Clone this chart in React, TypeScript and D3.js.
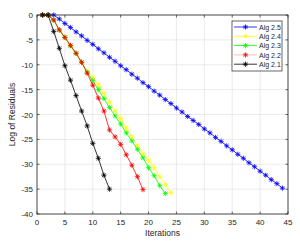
import React from "react";
import * as d3 from "d3";

const xTicks = [0, 5, 10, 15, 20, 25, 30, 35, 40, 45];
const yTicks = [0, -5, -10, -15, -20, -25, -30, -35, -40];

const alg25X = d3.range(1, 45);
const alg25Y = [0, 0, 0, -0.8, -1.7, -2.5, -3.4, -4.2, -5.1, -5.9, -6.8, -7.6, -8.5, -9.3, -10.2, -11.0, -11.9, -12.7, -13.6, -14.4, -15.3, -16.1, -17.0, -17.8, -18.7, -19.5, -20.4, -21.2, -22.0, -22.9, -23.7, -24.6, -25.4, -26.3, -27.1, -28.0, -28.8, -29.7, -30.5, -31.4, -32.2, -33.1, -33.9, -34.8];

const alg24X = d3.range(1, 25);
const alg24Y = [0, 0, -1.0, -3.0, -4.5, -6.2, -7.7, -9.5, -11.3, -12.6, -14.0, -15.8, -17.5, -19.3, -20.8, -22.7, -24.5, -26.3, -27.9, -29.2, -30.7, -32.5, -34.1, -35.7];

const alg23X = d3.range(1, 24);
const alg23Y = [0, 0, -1.0, -3.0, -4.5, -6.2, -7.7, -9.5, -11.5, -13.2, -15.0, -16.8, -18.6, -20.3, -21.9, -23.7, -25.3, -27.0, -28.7, -30.7, -32.3, -34.3, -35.9];

const alg22X = d3.range(1, 20);
const alg22Y = [0, 0, -1.0, -3.0, -4.5, -6.1, -7.7, -9.5, -11.7, -14.1, -16.7, -19.3, -23.1, -24.5, -26.0, -28.1, -30.2, -32.5, -35.1];

const alg21X = d3.range(1, 14);
const alg21Y = [0, 0, -3.3, -6.7, -10.2, -13.1, -16.2, -19.3, -22.3, -25.8, -28.8, -32.2, -35.0];

const seriesNames = ["Alg 2.5", "Alg 2.4", "Alg 2.3", "Alg 2.2", "Alg 2.1"];
const seriesColors = ["#0000ff", "#ffff00", "#00ff00", "#ff0000", "#000000"];
const legendLineColors = ["#0000ff", "#ffff00", "#00ff00", "#ffaaaa", "#000000"];
const seriesXs = [alg25X, alg24X, alg23X, alg22X, alg21X];
const seriesYs = [alg25Y, alg24Y, alg23Y, alg22Y, alg21Y];

const W = 300, H = 243;
const L = 37, R = 288, T = 15, B = 214;
const axisColor = "#262626";
const gridColor = "#e3e3e3";
const font = "'Liberation Sans', Arial, sans-serif";

function Star({ x, y, color, s = 2.6 }: { x: number; y: number; color: string; s?: number }) {
  const d = s * 0.72;
  return (
    <g stroke={color} strokeWidth={0.8}>
      <line x1={x - s} y1={y} x2={x + s} y2={y} />
      <line x1={x} y1={y - s} x2={x} y2={y + s} />
      <line x1={x - d} y1={y - d} x2={x + d} y2={y + d} />
      <line x1={x - d} y1={y + d} x2={x + d} y2={y - d} />
    </g>
  );
}

export default function App() {
  const x = d3.scaleLinear().domain([0, 45]).range([L, R]);
  const y = d3.scaleLinear().domain([-40, 0]).range([B, T]);
  const line = d3.line<[number, number]>().x((d) => x(d[0])).y((d) => y(d[1]));

  const legX = 232, legY = 21, legW = 50, legH = 50;
  const rowY = [27, 36.3, 45.6, 54.9, 64.2];

  return (
    <svg width={W} height={H} style={{ position: "absolute", left: 0, top: 0, background: "#fff" }}>
      <rect x={0} y={0} width={W} height={H} fill="#fff" />
      {/* grid */}
      {xTicks.map((t) => (
        <line key={"gx" + t} x1={x(t)} x2={x(t)} y1={T} y2={B} stroke={gridColor} strokeWidth={0.7} />
      ))}
      {yTicks.map((t) => (
        <line key={"gy" + t} x1={L} x2={R} y1={y(t)} y2={y(t)} stroke={gridColor} strokeWidth={0.7} />
      ))}
      {/* series */}
      {seriesXs.map((xs, i) => {
        const pts: [number, number][] = xs.map((v, j) => [v, seriesYs[i][j]]);
        return (
          <g key={"s" + i}>
            <path d={line(pts) || ""} fill="none" stroke={seriesColors[i]} strokeWidth={0.8} />
            {pts.map((p, j) => (
              <Star key={j} x={x(p[0])} y={y(p[1])} color={seriesColors[i]} />
            ))}
          </g>
        );
      })}
      {/* box */}
      <rect x={L} y={T} width={R - L} height={B - T} fill="none" stroke={axisColor} strokeWidth={0.8} />
      {/* ticks */}
      {xTicks.map((t) => (
        <g key={"tx" + t}>
          <line x1={x(t)} x2={x(t)} y1={B} y2={B - 2.5} stroke={axisColor} strokeWidth={0.7} />
          <line x1={x(t)} x2={x(t)} y1={T} y2={T + 2.5} stroke={axisColor} strokeWidth={0.7} />
          <text x={x(t)} y={B + 11} fontSize={8} fontFamily={font} fill={axisColor} textAnchor="middle">
            {t}
          </text>
        </g>
      ))}
      {yTicks.map((t) => (
        <g key={"ty" + t}>
          <line x1={L} x2={L + 2.5} y1={y(t)} y2={y(t)} stroke={axisColor} strokeWidth={0.7} />
          <line x1={R} x2={R - 2.5} y1={y(t)} y2={y(t)} stroke={axisColor} strokeWidth={0.7} />
          <text x={L - 4} y={y(t) + 3} fontSize={8} fontFamily={font} fill={axisColor} textAnchor="end">
            {t}
          </text>
        </g>
      ))}
      {/* labels */}
      <text x={(L + R) / 2} y={236} fontSize={8.5} fontFamily={font} fill={axisColor} textAnchor="middle">
        Iterations
      </text>
      <text
        transform={`translate(15, ${(T + B) / 2}) rotate(-90)`}
        fontSize={8.5}
        fontFamily={font}
        fill={axisColor}
        textAnchor="middle"
      >
        Log of Residuals
      </text>
      {/* legend */}
      <rect x={legX} y={legY} width={legW} height={legH} fill="#fff" stroke={axisColor} strokeWidth={0.7} />
      {seriesNames.map((n, i) => (
        <g key={"l" + i}>
          <line x1={legX + 2} x2={legX + 25} y1={rowY[i]} y2={rowY[i]} stroke={legendLineColors[i]} strokeWidth={0.8} />
          <Star x={legX + 13.5} y={rowY[i]} color={seriesColors[i]} />
          <text x={legX + 27} y={rowY[i] + 2.6} fontSize={7} fontFamily={font} fill={axisColor}>
            {n}
          </text>
        </g>
      ))}
    </svg>
  );
}
